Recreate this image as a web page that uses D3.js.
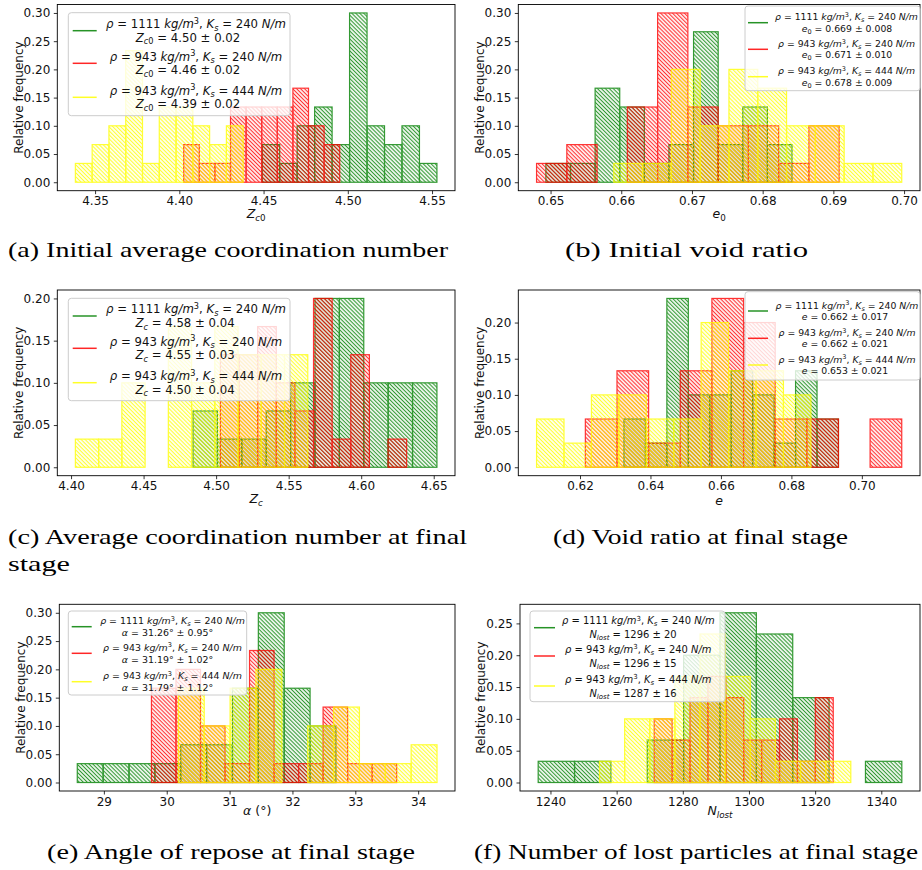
<!DOCTYPE html>
<html>
<head>
<meta charset="utf-8">
<script src="https://cdn.jsdelivr.net/npm/d3@7"></script>
<style>
  body { margin: 0; background: #fff; }
  svg { display: block; }
  text { font-family: "DejaVu Sans", sans-serif; fill: #111; }
  .caption { font-family: "Liberation Serif", "DejaVu Serif", serif; fill: #000; }
</style>
</head>
<body>
<svg id="fig" width="922" height="870"></svg>
<script>
// ---------------- data ----------------
const N_RUNS = 30;                       // simulations per parameter set
const seriesColors = ["#008000", "#ff0000", "#ffff00"];
const seriesRho = ["1111", "943", "943"];
const seriesKs  = ["240", "240", "444"];

// each series: [min, max] of the sampled values, split into 10 equal bins; counts per bin
// (a) initial average coordination number Z_c0
const zc0Ranges = [[4.4492, 4.5529], [4.4026, 4.4952], [4.3383, 4.4379]];
const zc0Counts = [[2,1,3,4,2,9,3,2,3,1], [2,1,1,4,4,4,4,5,3,2], [1,2,3,7,1,4,4,3,2,3]];
const zc0Stats  = ["4.50 ± 0.02", "4.46 ± 0.02", "4.39 ± 0.02"];
const zc0Ticks  = [4.35, 4.40, 4.45, 4.50, 4.55];
const zc0YTicks = [0, 0.05, 0.10, 0.15, 0.20, 0.25, 0.30];

// (b) initial void ratio e_0
const e0Ranges = [[0.64934, 0.68415], [0.64802, 0.69082], [0.65894, 0.69967]];
const e0Counts = [[1,1,5,4,1,2,8,2,4,2], [1,2,0,4,9,4,3,3,1,3], [1,1,6,3,6,5,3,3,1,1]];
const e0Stats  = ["0.669 ± 0.008", "0.671 ± 0.010", "0.678 ± 0.009"];
const e0Ticks  = [0.65, 0.66, 0.67, 0.68, 0.69, 0.70];
const e0YTicks = [0, 0.05, 0.10, 0.15, 0.20, 0.25, 0.30];

// (c) average coordination number at final stage Z_c
const zcRanges = [[4.4841, 4.6522], [4.50295, 4.63133], [4.40298, 4.56317]];
const zcCounts = [[2,1,1,2,3,6,6,3,3,3], [4,4,5,3,2,6,1,4,0,1], [1,1,3,0,5,3,5,4,4,4]];
const zcStats  = ["4.58 ± 0.04", "4.55 ± 0.03", "4.50 ± 0.04"];
const zcTicks  = [4.40, 4.45, 4.50, 4.55, 4.60, 4.65];
const zcYTicks = [0, 0.05, 0.10, 0.15, 0.20];

// (d) void ratio at final stage e
const eRanges = [[0.63248, 0.69336], [0.62152, 0.71132], [0.60767, 0.68553]];
const eCounts = [[2,1,7,3,3,4,3,1,4,2], [2,4,1,4,7,6,2,2,0,2], [2,1,3,3,2,2,6,4,4,3]];
const eStats  = ["0.662 ± 0.017", "0.662 ± 0.021", "0.653 ± 0.021"];
const eTicks  = [0.62, 0.64, 0.66, 0.68, 0.70];
const eYTicks = [0, 0.05, 0.10, 0.15, 0.20];

// (e) angle of repose alpha (degrees)
const alphaRanges = [[28.577, 32.692], [29.757, 33.658], [30.185, 34.300]];
const alphaCounts = [[1,1,1,1,2,2,5,9,5,3], [5,6,3,1,7,1,1,4,1,1], [5,3,5,6,0,3,4,1,1,2]];
const alphaStats  = ["31.26° ± 0.95°", "31.19° ± 1.02°", "31.79° ± 1.12°"];
const alphaTicks  = [29, 30, 31, 32, 33, 34];
const alphaYTicks = [0, 0.05, 0.10, 0.15, 0.20, 0.25, 0.30];

// (f) number of lost particles N_lost
const nlostRanges = [[1236.29, 1346.2], [1271.36, 1325.47], [1254.83, 1330.78]];
const nlostCounts = [[1,1,0,2,6,8,7,4,0,1], [3,2,4,5,4,2,2,3,1,4], [1,3,3,5,7,5,3,1,1,1]];
const nlostStats  = ["1296 ± 20", "1296 ± 15", "1287 ± 16"];
const nlostTicks  = [1240, 1260, 1280, 1300, 1320, 1340];
const nlostYTicks = [0, 0.05, 0.10, 0.15, 0.20, 0.25];

const captions = [
  { lines: ["(a) Initial average coordination number"] },
  { lines: ["(b) Initial void ratio"] },
  { lines: ["(c) Average coordination number at final", "stage"] },
  { lines: ["(d) Void ratio at final stage"] },
  { lines: ["(e) Angle of repose at final stage"] },
  { lines: ["(f) Number of lost particles at final stage"] }
];

// ---------------- drawing ----------------
const svg = d3.select("#fig");
const defs = svg.append("defs");
const HATCH = 2.8;
seriesColors.forEach((c, i) => {
  const p = defs.append("pattern")
    .attr("id", "hatch" + i)
    .attr("patternUnits", "userSpaceOnUse")
    .attr("width", HATCH).attr("height", HATCH)
    .attr("patternTransform", "rotate(-45)");
  p.append("line")
    .attr("x1", HATCH / 2).attr("y1", -1).attr("x2", HATCH / 2).attr("y2", HATCH + 1)
    .attr("stroke", c).attr("stroke-width", 1.15);
});

// rich text: segments {t, i: italic, sub, sup}
function richText(parent, x, y, segs, size, anchor) {
  const t = parent.append("text")
    .attr("x", x).attr("y", y)
    .attr("font-size", size)
    .attr("text-anchor", anchor || "middle");
  let shift = 0;
  segs.forEach(s => {
    const target = s.sub ? size * 0.22 : (s.sup ? -size * 0.36 : 0);
    const ts = t.append("tspan").text(s.t);
    if (target !== shift) ts.attr("dy", target - shift);
    shift = target;
    if (s.i) ts.attr("font-style", "italic");
    if (s.sub || s.sup) ts.attr("font-size", size * 0.7);
  });
  return t;
}

// font size that makes a rich text line span the given width
function fitSize(parent, segs, width) {
  const probe = richText(parent, 0, -100, segs, 10, "start");
  const len = probe.node().getComputedTextLength();
  probe.remove();
  return 10 * width / len;
}

function seriesLine1(i) {
  return [
    { t: "ρ", i: 1 }, { t: " = " + seriesRho[i] + " " }, { t: "kg/m", i: 1 }, { t: "3", sup: 1 },
    { t: ", " }, { t: "K", i: 1 }, { t: "s", i: 1, sub: 1 }, { t: " = " + seriesKs[i] + " " }, { t: "N/m", i: 1 }
  ];
}

function drawPanel(cfg) {
  const f = cfg.frame;
  const lo = d3.min(cfg.ranges, r => r[0]);
  const hi = d3.max(cfg.ranges, r => r[1]);
  const pad = (hi - lo) * 0.05;
  const xs = d3.scaleLinear().domain([lo - pad, hi + pad]).range([f.l, f.r]);
  const fmax = d3.max(cfg.counts.flat()) / N_RUNS;
  const ys = d3.scaleLinear().domain([-0.05 * fmax, 1.05 * fmax]).range([f.b, f.t]);

  const g = svg.append("g");

  // histogram bars, one layer per series
  cfg.ranges.forEach((r, si) => {
    const nb = cfg.counts[si].length;
    const w = (r[1] - r[0]) / nb;
    const bins = cfg.counts[si].map((c, k) => ({ x0: r[0] + k * w, x1: r[0] + (k + 1) * w, f: c / N_RUNS }))
      .filter(b => b.f > 0);
    g.append("g")
      .attr("opacity", 0.8)
      .selectAll("rect").data(bins).join("rect")
      .attr("x", b => xs(b.x0))
      .attr("width", b => xs(b.x1) - xs(b.x0))
      .attr("y", b => ys(b.f))
      .attr("height", b => ys(0) - ys(b.f))
      .attr("fill", "url(#hatch" + si + ")")
      .attr("stroke", seriesColors[si])
      .attr("stroke-width", 1.2);
  });

  // axes
  const xAxis = d3.axisBottom(xs).tickValues(cfg.ticks).tickFormat(cfg.xfmt)
    .tickSize(3.5).tickPadding(2.5);
  const yAxis = d3.axisLeft(ys).tickValues(cfg.yticks).tickFormat(d3.format(".2f"))
    .tickSize(3.5).tickPadding(3.5);
  const gx = g.append("g").attr("transform", `translate(0,${f.b})`).call(xAxis);
  const gy = g.append("g").attr("transform", `translate(${f.l},0)`).call(yAxis);
  [gx, gy].forEach(a => {
    a.select(".domain").remove();
    a.selectAll("line").attr("stroke", "#000").attr("stroke-width", 0.8);
    a.selectAll("text").attr("font-size", 12).attr("font-family", "DejaVu Sans").attr("fill", "#111");
  });
  g.append("rect")
    .attr("x", f.l).attr("y", f.t).attr("width", f.r - f.l).attr("height", f.b - f.t)
    .attr("fill", "none").attr("stroke", "#000").attr("stroke-width", 0.9);

  // axis titles
  richText(g, (f.l + f.r) / 2, cfg.xlabelY, cfg.xlabel, 12.5, "middle");
  g.append("text")
    .attr("transform", `translate(${cfg.ylabelX},${(f.t + f.b) / 2}) rotate(-90)`)
    .attr("text-anchor", "middle").attr("dominant-baseline", "central")
    .attr("font-size", 12).text("Relative frequency");

  // legend
  const L = cfg.legend;
  g.append("rect")
    .attr("x", L.x).attr("y", L.y).attr("width", L.w).attr("height", L.h)
    .attr("rx", 3).attr("fill", "#fff").attr("fill-opacity", 0.8)
    .attr("stroke", "#cccccc").attr("stroke-width", 1);
  const fs = fitSize(g, seriesLine1(0), L.width1);
  cfg.stats.forEach((s, i) => {
    const cy = L.rows[i];
    g.append("line")
      .attr("x1", L.hx[0]).attr("x2", L.hx[1]).attr("y1", cy).attr("y2", cy)
      .attr("stroke", seriesColors[i]).attr("stroke-width", 1.5).attr("stroke-opacity", 0.85);
    richText(g, L.tx1, cy - L.gap + fs * 0.36, seriesLine1(i), fs, "middle");
    richText(g, L.tx2, cy + L.gap + fs * 0.36, cfg.statLabel(s), fs, "middle");
  });
}

const fmt2 = d3.format(".2f");
const fmtInt = d3.format("d");

drawPanel({
  frame: { l: 57.3, r: 455, t: 4.5, b: 190.7 },
  ranges: zc0Ranges, counts: zc0Counts, ticks: zc0Ticks, yticks: zc0YTicks, xfmt: fmt2,
  xlabel: [{ t: "Z", i: 1 }, { t: "c", i: 1, sub: 1 }, { t: "0", sub: 1 }], xlabelY: 218, ylabelX: 19,
  stats: zc0Stats,
  statLabel: s => [{ t: "Z", i: 1 }, { t: "c", i: 1, sub: 1 }, { t: "0", sub: 1 }, { t: " = " + s }],
  legend: { x: 68.3, y: 12.7, w: 221.7, h: 103, hx: [72.7, 96.7], tx1: 196, tx2: 188, width1: 180, gap: 6.9, rows: [30.7, 63.3, 97.3] }
});

drawPanel({
  frame: { l: 518.3, r: 920, t: 4.5, b: 190.7 },
  ranges: e0Ranges, counts: e0Counts, ticks: e0Ticks, yticks: e0YTicks, xfmt: fmt2,
  xlabel: [{ t: "e", i: 1 }, { t: "0", sub: 1 }], xlabelY: 218, ylabelX: 480,
  stats: e0Stats,
  statLabel: s => [{ t: "e", i: 1 }, { t: "0", sub: 1 }, { t: " = " + s }],
  legend: { x: 745, y: 6, w: 175, h: 84.7, hx: [748, 768], tx1: 846.5, tx2: 847, width1: 143, gap: 5.6, rows: [22.7, 49.3, 76.7] }
});

drawPanel({
  frame: { l: 57.3, r: 455, t: 290, b: 475.7 },
  ranges: zcRanges, counts: zcCounts, ticks: zcTicks, yticks: zcYTicks, xfmt: fmt2,
  xlabel: [{ t: "Z", i: 1 }, { t: "c", i: 1, sub: 1 }], xlabelY: 503, ylabelX: 19,
  stats: zcStats,
  statLabel: s => [{ t: "Z", i: 1 }, { t: "c", i: 1, sub: 1 }, { t: " = " + s }],
  legend: { x: 68.3, y: 298.3, w: 221.7, h: 102.4, hx: [72.7, 96.7], tx1: 196, tx2: 185, width1: 180, gap: 6.9, rows: [316, 348.3, 382.7] }
});

drawPanel({
  frame: { l: 518.3, r: 920, t: 290, b: 475.7 },
  ranges: eRanges, counts: eCounts, ticks: eTicks, yticks: eYTicks, xfmt: fmt2,
  xlabel: [{ t: "e", i: 1 }], xlabelY: 505, ylabelX: 480,
  stats: eStats,
  statLabel: s => [{ t: "e", i: 1 }, { t: " = " + s }],
  legend: { x: 745, y: 291.7, w: 175, h: 88.3, hx: [748, 768], tx1: 847, tx2: 845, width1: 143, gap: 5.8, rows: [311, 338.3, 365] }
});

drawPanel({
  frame: { l: 59.3, r: 455, t: 604.3, b: 791 },
  ranges: alphaRanges, counts: alphaCounts, ticks: alphaTicks, yticks: alphaYTicks, xfmt: fmtInt,
  xlabel: [{ t: "α", i: 1 }, { t: " (°)" }], xlabelY: 815, ylabelX: 21,
  stats: alphaStats,
  statLabel: s => [{ t: "α", i: 1 }, { t: " = " + s }],
  legend: { x: 68.3, y: 611, w: 178.4, h: 84, hx: [71.7, 91.7], tx1: 172.5, tx2: 167.5, width1: 145, gap: 6.0, rows: [626.7, 653.3, 681.7] }
});

drawPanel({
  frame: { l: 520, r: 920, t: 604.3, b: 791 },
  ranges: nlostRanges, counts: nlostCounts, ticks: nlostTicks, yticks: nlostYTicks, xfmt: fmtInt,
  xlabel: [{ t: "N", i: 1 }, { t: "lost", i: 1, sub: 1 }], xlabelY: 815, ylabelX: 481,
  stats: nlostStats,
  statLabel: s => [{ t: "N", i: 1 }, { t: "lost", i: 1, sub: 1 }, { t: " = " + s }],
  legend: { x: 530, y: 611, w: 195, h: 90.7, hx: [534, 555], tx1: 638.3, tx2: 633, width1: 153, gap: 7.0, rows: [627.7, 656, 686] }
});

// sub-figure captions
const captionPlaces = [
  [{ x0: 8, x1: 448, y: 257 }],
  [{ x0: 565, x1: 808, y: 257 }],
  [{ x0: 8, x1: 467, y: 544 }, { x0: 8, x1: 70, y: 571 }],
  [{ x0: 553, x1: 848, y: 544 }],
  [{ x0: 47, x1: 415, y: 859 }],
  [{ x0: 474, x1: 918, y: 859 }]
];
captions.forEach((c, ci) => {
  c.lines.forEach((line, li) => {
    const p = captionPlaces[ci][li];
    svg.append("text").attr("class", "caption")
      .attr("x", p.x0).attr("y", p.y)
      .attr("font-size", 21)
      .attr("textLength", p.x1 - p.x0)
      .attr("lengthAdjust", "spacingAndGlyphs")
      .text(line);
  });
});
</script>
</body>
</html>
